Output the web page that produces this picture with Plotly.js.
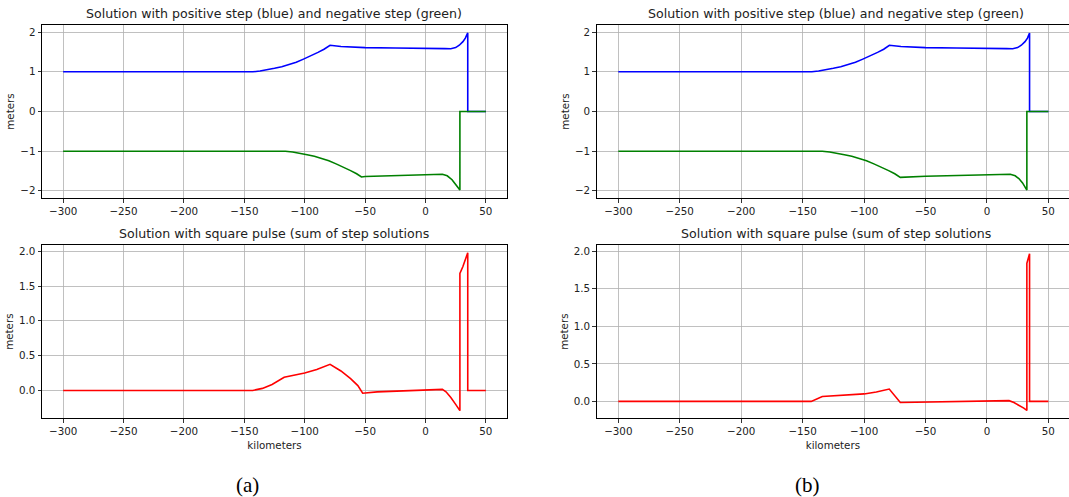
<!DOCTYPE html>
<html>
<head>
<meta charset="utf-8">
<script src="https://cdn.plot.ly/plotly-3.0.1.min.js"></script>
<style>html,body{margin:0;padding:0;background:#fff;}#chart{width:1069px;height:497px;}</style>
</head>
<body>
<div id="chart"></div>
<script>
// ---- Data ----
// Panel (a): positive step (blue)
const xBlueA = [-300, -143, -137, -131, -125, -119, -113, -107, -101, -95, -89, -84, -79, -70, -60, -50, -25, 0, 10, 16, 21, 25, 28, 31, 33, 35, 35, 50];
const yBlueA = [1, 1, 1.02, 1.05, 1.09, 1.13, 1.18, 1.24, 1.32, 1.40, 1.49, 1.57, 1.67, 1.64, 1.62, 1.61, 1.6, 1.6, 1.59, 1.585, 1.58, 1.61, 1.67, 1.76, 1.85, 1.98, 0, 0];
// Panel (a): negative step (green)
const xGreenA = [-300, -116, -110, -104, -98, -92, -86, -80, -74, -68, -62, -57, -53, -50, -25, 0, 14, 18, 22, 25, 27, 28.5, 28.5, 50];
const yGreenA = [-1, -1, -1.02, -1.05, -1.09, -1.13, -1.18, -1.24, -1.32, -1.40, -1.49, -1.57, -1.65, -1.64, -1.61, -1.59, -1.58, -1.62, -1.72, -1.84, -1.94, -1.98, 0, 0];
// Panel (a): square pulse (red)
const xRedA = [-300, -143, -135, -127, -117, -108, -100, -90, -79, -70, -62, -56, -52, -40, -25, 0, 14, 17, 21, 25, 28.5, 28.5, 31, 35, 35, 50];
const yRedA = [0, 0, 0.03, 0.085, 0.19, 0.22, 0.25, 0.3, 0.375, 0.28, 0.17, 0.07, -0.04, -0.02, -0.01, 0, 0.015, -0.02, -0.1, -0.2, -0.29, 1.68, 1.78, 1.98, 0, 0];

// Panel (b): positive step (blue)
const xBlueB = [-300, -142.5, -137, -131, -125, -119, -113, -107, -101, -95, -89, -84, -79.4, -70, -60, -50, -25, 0, 10, 16, 21, 25, 28, 31, 33, 34.7, 34.7, 50];
const yBlueB = [1, 1, 1.02, 1.05, 1.09, 1.13, 1.18, 1.24, 1.32, 1.40, 1.49, 1.57, 1.67, 1.64, 1.62, 1.61, 1.6, 1.6, 1.59, 1.585, 1.58, 1.61, 1.67, 1.76, 1.85, 1.98, 0, 0];
// Panel (b): negative step (green)
const xGreenB = [-300, -134, -128, -122, -116, -110, -104, -98, -92, -86, -80, -75, -70.5, -50, -25, 0, 19, 23, 26, 29, 31, 32.5, 32.5, 50];
const yGreenB = [-1, -1, -1.02, -1.05, -1.09, -1.13, -1.18, -1.24, -1.32, -1.40, -1.49, -1.57, -1.66, -1.63, -1.61, -1.6, -1.58, -1.62, -1.69, -1.8, -1.9, -1.98, 0, 0];
// Panel (b): square pulse (red)
const xRedB = [-300, -143, -134, -120, -100, -90, -85, -79.5, -70.5, -50, -25, 0, 18, 22, 26, 30, 32.5, 32.5, 34.7, 34.7, 50];
const yRedB = [0, 0, 0.065, 0.08, 0.1, 0.125, 0.14, 0.165, -0.015, -0.01, -0.005, 0, 0.01, -0.015, -0.05, -0.09, -0.12, 1.84, 1.97, 0, 0];

// Text
const topTitle = 'Solution with positive step (blue) and negative step (green)';
const bottomTitle = 'Solution with square pulse (sum of step solutions';
const yLabel = 'meters';
const xLabel = 'kilometers';
const captions = ['(a)', '(b)'];

// ---- Layout ----
const W = 1069, H = 497;
const fx = p => p / W;
const fy = p => 1 - p / H;
const FONT = 'DejaVu Sans, sans-serif';
const TXT = '#222222';

function line(x, y, color, xa, ya) {
  return {x: x, y: y, type: 'scatter', mode: 'lines', line: {color: color, width: 1.6},
          xaxis: xa, yaxis: ya, hoverinfo: 'skip'};
}

const data = [
  line(xBlueA, yBlueA, '#0000ff', 'x', 'y'),
  line(xGreenA, yGreenA, '#008000', 'x', 'y'),
  line(xRedA, yRedA, '#ff0000', 'x2', 'y2'),
  line(xBlueB, yBlueB, '#0000ff', 'x3', 'y3'),
  line(xGreenB, yGreenB, '#008000', 'x3', 'y3'),
  line(xRedB, yRedB, '#ff0000', 'x4', 'y4')
];

function axBase(extra) {
  return Object.assign({
    showline: true, mirror: true, linecolor: '#000', linewidth: 1,
    showgrid: true, gridcolor: '#b0b0b0', gridwidth: 0.8,
    zeroline: false, ticks: 'outside', ticklen: 3.5, tickwidth: 0.8, tickcolor: '#000',
    tickfont: {family: FONT, size: 10.3, color: TXT}, fixedrange: true
  }, extra);
}

const topY = [25, 198], botY = [245, 418.3];
const aX = [42, 507], bX = [596.7, 1069];

function xAxis(px, py, anchor, range, withTitle) {
  const o = axBase({domain: [fx(px[0]), fx(px[1])], anchor: anchor, range: range,
    tick0: 0, dtick: 50});
  if (withTitle) o.title = {text: xLabel, font: {family: FONT, size: 10.3, color: TXT}, standoff: 5};
  return o;
}
function yAxis(py, anchor, range, dtick, fmt) {
  return axBase({domain: [fy(py[1]), fy(py[0])], anchor: anchor, range: range,
    tick0: 0, dtick: dtick, tickformat: fmt,
    title: {text: yLabel, font: {family: FONT, size: 10.3, color: TXT}, standoff: 3}});
}

const TFONT = {family: FONT, size: 12.6, color: TXT};
const layout = {
  width: W, height: H,
  margin: {l: 0, r: 0, t: 0, b: 0},
  paper_bgcolor: '#fff', plot_bgcolor: '#fff',
  showlegend: false,
  xaxis:  xAxis(aX, topY, 'y',  [-317.5, 67.5], false),
  yaxis:  yAxis(topY, 'x',  [-2.18, 2.18], 1, 'd'),
  xaxis2: xAxis(aX, botY, 'y2', [-317.5, 67.5], true),
  yaxis2: yAxis(botY, 'x2', [-0.40, 2.09], 0.5, '.1f'),
  xaxis3: xAxis(bX, topY, 'y3', [-317.6, 66.8], false),
  yaxis3: yAxis(topY, 'x3', [-2.18, 2.18], 1, 'd'),
  xaxis4: xAxis(bX, botY, 'y4', [-317.6, 66.8], true),
  yaxis4: yAxis(botY, 'x4', [-0.225, 2.085], 0.5, '.1f'),
  annotations: [
    {text: topTitle, xref: 'paper', yref: 'paper', x: fx(274), y: fy(topY[0]),
     xanchor: 'center', yanchor: 'bottom', yshift: 2, showarrow: false, font: TFONT},
    {text: bottomTitle, xref: 'paper', yref: 'paper', x: fx(274), y: fy(botY[0]),
     xanchor: 'center', yanchor: 'bottom', yshift: 2, showarrow: false, font: TFONT},
    {text: topTitle, xref: 'paper', yref: 'paper', x: fx(836), y: fy(topY[0]),
     xanchor: 'center', yanchor: 'bottom', yshift: 2, showarrow: false, font: TFONT},
    {text: bottomTitle, xref: 'paper', yref: 'paper', x: fx(836), y: fy(botY[0]),
     xanchor: 'center', yanchor: 'bottom', yshift: 2, showarrow: false, font: TFONT},
    {text: captions[0], xref: 'paper', yref: 'paper', x: fx(247), y: fy(485),
     xanchor: 'center', yanchor: 'middle', showarrow: false, font: {family: 'Liberation Serif, serif', size: 21, color: '#000'}},
    {text: captions[1], xref: 'paper', yref: 'paper', x: fx(807), y: fy(485),
     xanchor: 'center', yanchor: 'middle', showarrow: false, font: {family: 'Liberation Serif, serif', size: 21, color: '#000'}}
  ]
};

Plotly.newPlot('chart', data, layout, {staticPlot: true, displayModeBar: false});
</script>
</body>
</html>
